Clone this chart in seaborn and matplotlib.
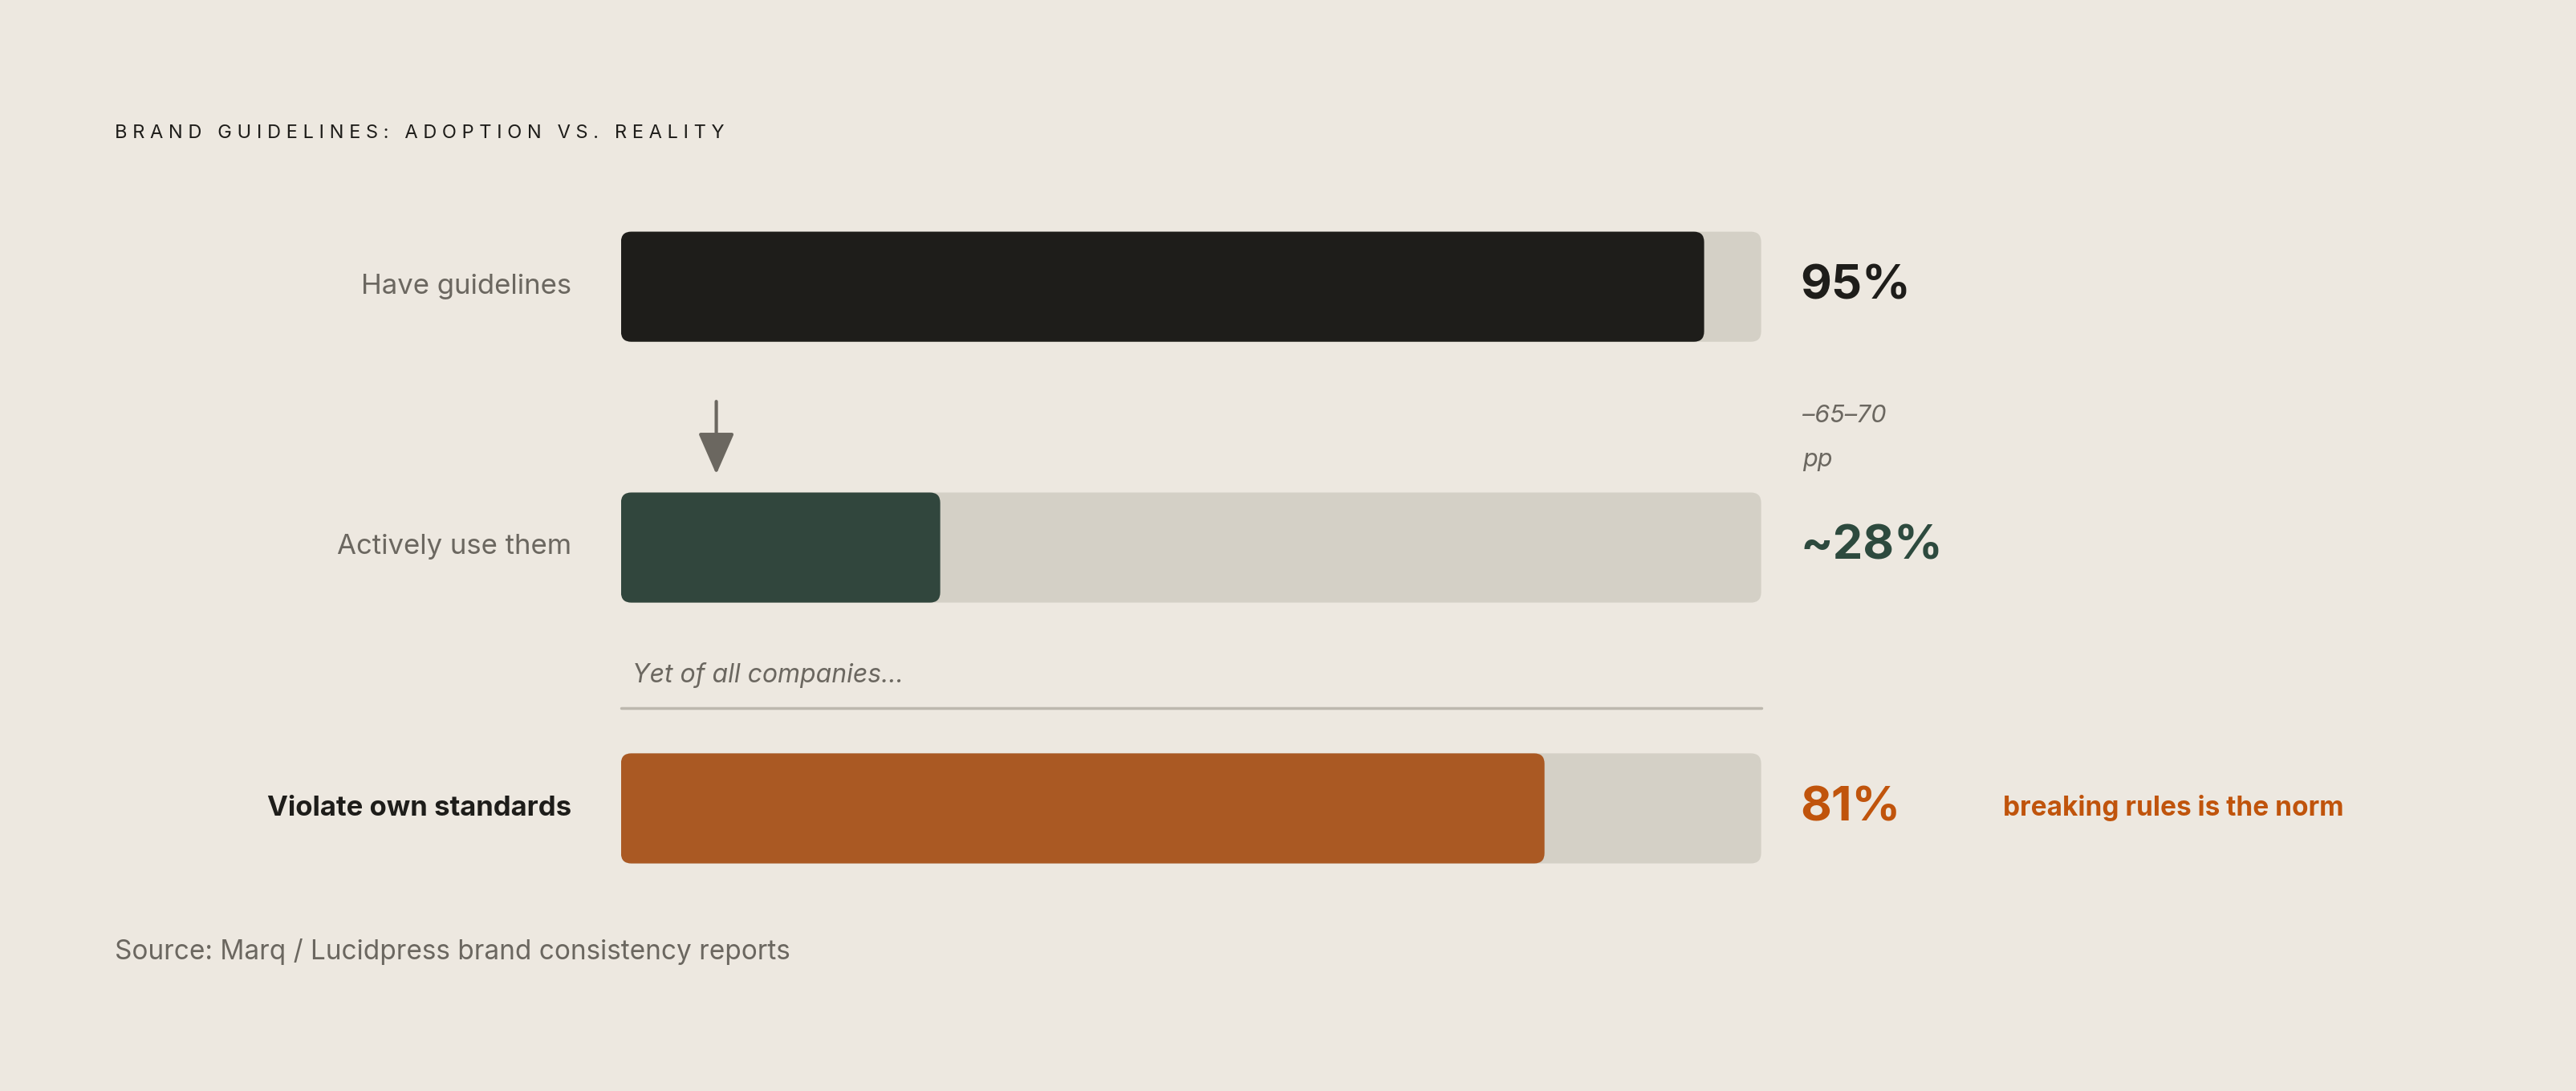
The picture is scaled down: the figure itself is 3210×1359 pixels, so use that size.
import matplotlib
matplotlib.use("Agg")
import matplotlib.pyplot as plt
import seaborn as sns
import pandas as pd
from matplotlib.patches import FancyBboxPatch

categories = ["Have guidelines", "Actively use them", "Violate own standards"]
values = [95, 28, 81]
value_labels = ["95%", "~28%", "81%"]
colors = ["#1E1D1A", "#2D4A3E", "#C0540C"]
track_max = [100, 100, 100]

BG = "#EDE8E0"; TRACK = "#D6D1C4"; GRAY = "#6B6760"
W, H = 1568, 664

sns.set_theme(style="white")
plt.rcParams["font.family"] = ["Inter", "DejaVu Sans"]

fig = plt.figure(figsize=(32.1, 13.59), dpi=100)
fig.patch.set_facecolor(BG)
ax = fig.add_axes([378 / W, 0, (1072 - 378) / W, 1])
ax.set_facecolor("none")

df = pd.DataFrame({"cat": categories, "val": values, "max": track_max})
sns.barplot(data=df, y="cat", x="max", color=TRACK, width=0.422, ax=ax, orient="h")
sns.barplot(data=df, y="cat", x="val", hue="cat", palette=colors, width=0.422,
            ax=ax, orient="h", legend=False)
ax.set_xlim(0, 100)
ax.set_ylim((664 - 174.5) / 158.75, -174.5 / 158.75)
ax.axis("off")

# round the bars
patches = list(ax.patches)
for p in patches:
    x, y, w, h = p.get_x(), p.get_y(), p.get_width(), p.get_height()
    fc = p.get_facecolor()
    p.remove()
    ax.add_patch(FancyBboxPatch((x, y), w, h, boxstyle="round,pad=0,rounding_size=0.9",
                                mutation_aspect=0.044, facecolor=fc, edgecolor="none"))

def T(x, y, s, **kw):
    fig.text(x / W, 1 - y / H, s, **kw)

T(70, 81, "B R A N D   G U I D E L I N E S :   A D O P T I O N   V S .   R E A L I T Y",
  fontsize=17, color="#1E1D1A", va="center")
ys = [174.5, 332.5, 492]
for i, (c, lab, col) in enumerate(zip(categories, value_labels, colors)):
    T(348, ys[i], c, fontsize=25, ha="right", va="center",
      color="#1E1D1A" if i == 2 else GRAY, fontweight="bold" if i == 2 else "normal")
    T(1096, ys[i], lab, fontsize=43, ha="left", va="center", color=col, fontweight="bold")

T(1097, 253, "–65–70", fontsize=22, style="italic", color=GRAY, va="center")
T(1097, 280, "pp", fontsize=22, style="italic", color=GRAY, va="center")
T(385, 411, "Yet of all companies...", fontsize=23, style="italic", color=GRAY, va="center")
T(1219, 492, "breaking rules is the norm", fontsize=24, fontweight="bold", color="#C0540C", va="center")
T(70, 579, "Source: Marq / Lucidpress brand consistency reports", fontsize=24, color=GRAY, va="center")

fig.add_artist(plt.Line2D([378 / W, 1072 / W], [1 - 431 / H] * 2, color="#BDB8AE", lw=2.5))
fig.add_artist(matplotlib.patches.FancyArrowPatch((436 / W, 1 - 243 / H), (436 / W, 1 - 290 / H),
               transform=fig.transFigure, arrowstyle="-|>,head_length=1.6,head_width=0.7",
               mutation_scale=20, color=GRAY, lw=3))

fig.savefig("out.png", dpi=100, facecolor=BG)
